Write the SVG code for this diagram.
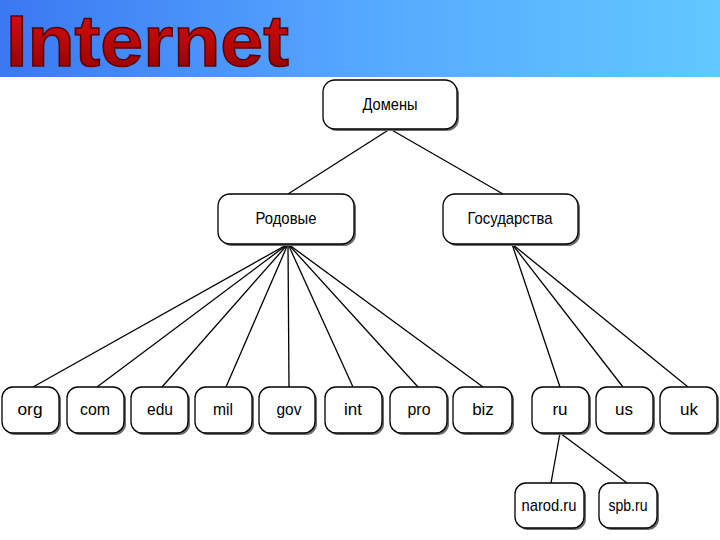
<svg xmlns="http://www.w3.org/2000/svg" width="720" height="540" viewBox="0 0 720 540">
<defs>
<linearGradient id="hdr" x1="0" y1="0" x2="1" y2="0">
<stop offset="0" stop-color="#3b78f2"/>
<stop offset="0.5" stop-color="#55a8ff"/>
<stop offset="1" stop-color="#62c8ff"/>
</linearGradient>
<linearGradient id="red" x1="0" y1="0" x2="0" y2="1">
<stop offset="0" stop-color="#e01010"/>
<stop offset="1" stop-color="#900000"/>
</linearGradient>
</defs>
<style>
.sh{fill:#6b6b6b}
.bx{fill:#fff;stroke:#000;stroke-width:1.3}
.t{font-family:"Liberation Sans",Arial,sans-serif;font-size:17px;fill:#000;text-anchor:middle;dominant-baseline:central}
.c line{stroke:#000;stroke-width:1.3}
</style>
<rect x="0" y="0" width="720" height="77" fill="url(#hdr)"/>
<text x="6" y="66" font-family="'Liberation Sans',Arial,sans-serif" font-weight="bold" font-size="72" fill="url(#red)" stroke="#5a0000" stroke-width="1.5" textLength="283" lengthAdjust="spacingAndGlyphs">Internet</text>
<g class="c">
<line x1="390" y1="129" x2="288" y2="194"/>
<line x1="390" y1="129" x2="503" y2="194"/>
<line x1="288" y1="244" x2="33" y2="387"/>
<line x1="288" y1="244" x2="97" y2="387"/>
<line x1="288" y1="244" x2="162" y2="387"/>
<line x1="288" y1="244" x2="226" y2="387"/>
<line x1="288" y1="244" x2="289" y2="387"/>
<line x1="288" y1="244" x2="353" y2="387"/>
<line x1="288" y1="244" x2="418" y2="387"/>
<line x1="288" y1="244" x2="483" y2="387"/>
<line x1="512" y1="244" x2="560" y2="387"/>
<line x1="512" y1="244" x2="623" y2="387"/>
<line x1="512" y1="244" x2="688" y2="387"/>
<line x1="560" y1="433" x2="551" y2="483"/>
<line x1="560" y1="433" x2="627" y2="483"/>
</g>
<g id="n-domeny"><rect class="sh" x="325" y="82" width="134" height="49" rx="12"/><rect class="bx" x="323" y="80" width="134" height="49" rx="12"/><text class="t" x="390" y="104" textLength="55" lengthAdjust="spacingAndGlyphs">Домены</text></g>
<g id="n-rodovye"><rect class="sh" x="220" y="196" width="136" height="50" rx="12"/><rect class="bx" x="218" y="194" width="136" height="50" rx="12"/><text class="t" x="286" y="218" textLength="61" lengthAdjust="spacingAndGlyphs">Родовые</text></g>
<g id="n-gos"><rect class="sh" x="445" y="196" width="135" height="50" rx="12"/><rect class="bx" x="443" y="194" width="135" height="50" rx="12"/><text class="t" x="510" y="218" textLength="85" lengthAdjust="spacingAndGlyphs">Государства</text></g>
<g id="n-org"><rect class="sh" x="4" y="389" width="57" height="46" rx="11"/><rect class="bx" x="2" y="387" width="57" height="46" rx="11"/><text class="t" x="30" y="409" textLength="25" lengthAdjust="spacingAndGlyphs">org</text></g>
<g id="n-com"><rect class="sh" x="69" y="389" width="57" height="46" rx="11"/><rect class="bx" x="67" y="387" width="57" height="46" rx="11"/><text class="t" x="95" y="409" textLength="30" lengthAdjust="spacingAndGlyphs">com</text></g>
<g id="n-edu"><rect class="sh" x="133" y="389" width="57" height="46" rx="11"/><rect class="bx" x="131" y="387" width="57" height="46" rx="11"/><text class="t" x="160" y="409" textLength="26" lengthAdjust="spacingAndGlyphs">edu</text></g>
<g id="n-mil"><rect class="sh" x="197" y="389" width="57" height="46" rx="11"/><rect class="bx" x="195" y="387" width="57" height="46" rx="11"/><text class="t" x="223" y="409" textLength="20" lengthAdjust="spacingAndGlyphs">mil</text></g>
<g id="n-gov"><rect class="sh" x="261" y="389" width="56" height="46" rx="11"/><rect class="bx" x="259" y="387" width="56" height="46" rx="11"/><text class="t" x="289" y="409" textLength="25" lengthAdjust="spacingAndGlyphs">gov</text></g>
<g id="n-int"><rect class="sh" x="327" y="389" width="57" height="46" rx="11"/><rect class="bx" x="325" y="387" width="57" height="46" rx="11"/><text class="t" x="353" y="409">int</text></g>
<g id="n-pro"><rect class="sh" x="392" y="389" width="57" height="46" rx="11"/><rect class="bx" x="390" y="387" width="57" height="46" rx="11"/><text class="t" x="419" y="409" textLength="23" lengthAdjust="spacingAndGlyphs">pro</text></g>
<g id="n-biz"><rect class="sh" x="455" y="389" width="59" height="46" rx="11"/><rect class="bx" x="453" y="387" width="59" height="46" rx="11"/><text class="t" x="483" y="409">biz</text></g>
<g id="n-ru"><rect class="sh" x="534" y="389" width="57" height="46" rx="11"/><rect class="bx" x="532" y="387" width="57" height="46" rx="11"/><text class="t" x="560" y="409">ru</text></g>
<g id="n-us"><rect class="sh" x="598" y="389" width="57" height="46" rx="11"/><rect class="bx" x="596" y="387" width="57" height="46" rx="11"/><text class="t" x="624" y="409">us</text></g>
<g id="n-uk"><rect class="sh" x="662" y="389" width="57" height="46" rx="11"/><rect class="bx" x="660" y="387" width="57" height="46" rx="11"/><text class="t" x="689" y="409">uk</text></g>
<g id="n-narod"><rect class="sh" x="517" y="485" width="69" height="45" rx="11"/><rect class="bx" x="515" y="483" width="69" height="45" rx="11"/><text class="t" x="549" y="505" textLength="55" lengthAdjust="spacingAndGlyphs">narod.ru</text></g>
<g id="n-spb"><rect class="sh" x="601" y="485" width="58" height="45" rx="11"/><rect class="bx" x="599" y="483" width="58" height="45" rx="11"/><text class="t" x="628" y="505" textLength="39" lengthAdjust="spacingAndGlyphs">spb.ru</text></g>
</svg>
